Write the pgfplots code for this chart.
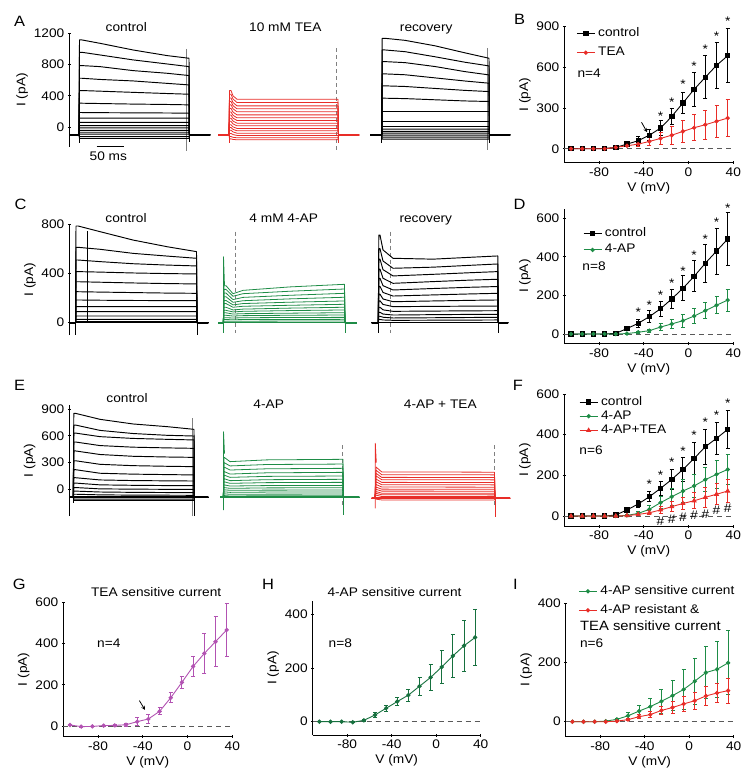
\documentclass[border=0pt]{standalone}
\usepackage{fontspec}
\setmainfont{Liberation Sans}[FakeStretch=1.1]
\usepackage{pgfplots}
\pgfplotsset{compat=1.18}
\definecolor{cred}{RGB}{232,45,40}
\definecolor{cgreen}{RGB}{30,140,70}
\definecolor{dgreen}{RGB}{22,112,62}
\definecolor{cpurple}{RGB}{178,82,178}
\newcommand\fs{\fontsize{12.5}{14}\selectfont}
\newcommand\fsi{\fontsize{13.5}{15}\selectfont}
\newcommand\fl{\fontsize{15}{17}\selectfont}
\pgfplotsset{
  base/.style={scale only axis, anchor=south west, clip=false,
    tick align=outside, major tick length=3bp,
    every tick/.style={black, line width=0.8pt},
    tick label style={font=\fs}, label style={font=\fs},
    ylabel={I (pA)}, ylabel shift=-1bp},
  iv/.style={base, axis lines=left, axis line style={-, line width=0.8pt}, xmin=-111, xmax=40,
    xtick={-80,-40,0,40}, xticklabels={-80,-40,0,40},
    xlabel={V (mV)}, xlabel style={yshift=1bp}},
  tr/.style={base, axis y line=left, axis x line=none, axis line style={-, line width=0.8pt}, xtick=\empty, xmin=69.3, xmax=515, width=445.7bp},
  trace/.style={black, line width=0.95pt, line join=round},
  rtrace/.style={cred, line width=0.8pt, line join=round},
  gtrace/.style={cgreen, line width=0.8pt, line join=round},
  bl/.style={line width=1.8pt},
  cur/.style={gray, line width=0.6pt},
  dcur/.style={gray, line width=0.7pt, dash pattern=on 4bp off 3bp},
  ebar/.style={error bars/y dir=both, error bars/y explicit,
    error bars/error bar style={line width=0.9pt, #1},
    error bars/error mark options={rotate=90, mark size=2bp, line width=0.9pt, #1}},
  zl/.style={black!65, line width=0.8pt, dash pattern=on 5bp off 4bp, forget plot},
  leg/.style={legend style={draw=none, fill=none, at={#1}, anchor=north west, font=\fs, inner sep=0pt,
     column sep=2bp,
     nodes={inner sep=1bp, text height=8.5bp, text depth=2.5bp}}, legend cell align=left,
     legend image code/.code={\draw[##1, mark=none] (0bp,0bp) -- (18bp,0bp);
        \draw[##1] plot coordinates {(9bp,0bp)};}},
}
\tikzset{star/.style={font=\fs, inner sep=0pt, yshift=-2.5bp}, hs/.style={font=\fs, inner sep=0pt}}
% trace macros
\newcommand\tA[5]{\addplot[trace] coordinates {(69.3,-100)(79,-100)(79.5,#1)(82,#1)(100,#2)(133,#3)(167,#4)(189,#5)(189.5,-100)(210,-100)};}
\newcommand\tR[3]{\addplot[rtrace] coordinates {(218.3,-100)(229,-100)(229.5,#1)(231,#1)(233,#2)(237,#3)(338,#3)(338.5,-100)(359,-100)};}
\newcommand\tC[5]{\addplot[trace] coordinates {(370,-100)(381.7,-100)(382.2,#1)(385,#1)(405,#2)(435,#3)(465,#4)(489,#5)(489.5,-100)(510,-100)};}
\newcommand\tD[5]{\addplot[trace] coordinates {(69.3,0)(75.5,0)(76,#1)(78,#1)(100,#2)(133,#3)(167,#4)(196.5,#5)(197,0)(208.3,0)};}
\newcommand\tE[5]{\addplot[gtrace] coordinates {(218.3,0)(223.3,0)(224,#1)(226,#1)(233,#2)(243,#3)(290,#4)(344.5,#5)(345,0)(356.7,0)};}
\newcommand\tF[6]{\addplot[trace] coordinates {(371.7,0)(378.3,0)(378.8,#1)(380,#1)(383,#2)(393,#3)(433,#4)(470,#5)(497.8,#6)(498.3,0)(508,0)};}
\newcommand\tG[5]{\addplot[trace] coordinates {(69.3,-90)(73.3,-90)(73.8,#1)(75.5,#1)(100,#2)(133,#3)(167,#4)(194,#5)(194.3,-90)(208.3,-90)};}
\newcommand\tH[4]{\addplot[gtrace] coordinates {(220,-90)(223.3,-90)(224,#1)(230,#2)(267,#3)(343,#4)(343.3,-90)(359.3,-90)};}
\newcommand\tI[3]{\addplot[rtrace] coordinates {(371.7,-100)(375,-100)(376,#1)(381.7,#2)(494.5,#3)(495,-100)(510,-100)};}
\begin{document}
\begin{tikzpicture}
\useasboundingbox (0,0) rectangle (756bp,-778bp);
%================ A =================
\begin{axis}[tr, height=113.4bp, at={(69.3bp,-146.7bp)}, ymin=-250, ymax=1200,
  ytick={0,400,800,1200}, yticklabels={0,400,800,1200}]
\addplot[cur] coordinates {(186,1000)(186,-300)};
\addplot[dcur] coordinates {(336,1010)(336,-290)};
\addplot[cur] coordinates {(487.7,1010)(487.7,-290)};
\tA{1115}{1072}{987}{915}{881}
\tA{957}{923}{860}{808}{774}
\tA{787}{774}{723}{689}{660}
\tA{625}{610}{591}{560}{540}
\tA{468}{460}{445}{430}{421}
\tA{306}{302}{295}{290}{285}
\tA{187}{185}{183}{181}{179}
\tA{115}{115}{115}{115}{115}
\tA{60}{60}{60}{60}{60}
\tA{20}{20}{20}{20}{20}
\tA{-10}{-10}{-10}{-10}{-10}
\tA{-40}{-40}{-40}{-40}{-40}
\tA{-65}{-65}{-65}{-65}{-65}
\tA{-90}{-90}{-90}{-90}{-90}
\tA{-120}{-120}{-120}{-120}{-120}
\tA{-145}{-145}{-145}{-145}{-145}
\addplot[trace] coordinates {(79,-100)(79,-205)};
\addplot[trace] coordinates {(189.5,-100)(189.5,-195)};
\addplot[trace,bl] coordinates {(69.3,-100)(79,-100)};
\addplot[trace,bl] coordinates {(189.5,-100)(210,-100)};
\tR{468}{400}{357}
\tR{420}{360}{315}
\tR{372}{315}{272}
\tR{328}{275}{234}
\tR{285}{235}{196}
\tR{240}{193}{157}
\tR{195}{152}{119}
\tR{155}{115}{85}
\tR{115}{78}{51}
\tR{75}{42}{17}
\tR{30}{4}{-17}
\tR{-5}{-28}{-47}
\tR{-40}{-60}{-77}
\tR{-80}{-95}{-106}
\tR{-120}{-130}{-136}
\tR{-150}{-157}{-162}
\addplot[rtrace] coordinates {(229,-100)(229,-205)};
\addplot[rtrace] coordinates {(338.5,-100)(338.5,-205)};
\addplot[rtrace,bl] coordinates {(218.3,-100)(229,-100)};
\addplot[rtrace,bl] coordinates {(338.5,-100)(359,-100)};
\tC{1136}{1110}{1040}{950}{881}
\tC{987}{965}{900}{830}{783}
\tC{838}{825}{775}{710}{668}
\tC{681}{670}{630}{590}{562}
\tC{528}{520}{495}{470}{455}
\tC{370}{365}{350}{335}{328}
\tC{200}{200}{200}{200}{200}
\tC{72}{72}{72}{72}{72}
\tC{8}{8}{8}{8}{8}
\tC{-25}{-25}{-25}{-25}{-25}
\tC{-55}{-55}{-55}{-55}{-55}
\tC{-77}{-77}{-77}{-77}{-77}
\tC{-102}{-102}{-102}{-102}{-102}
\tC{-128}{-128}{-128}{-128}{-128}
\tC{-153}{-153}{-153}{-153}{-153}
\addplot[trace] coordinates {(381.7,-100)(381.7,-205)};
\addplot[trace] coordinates {(489.5,-100)(489.5,-200)};
\addplot[trace,bl] coordinates {(370,-100)(381.7,-100)};
\addplot[trace,bl] coordinates {(489.5,-100)(510,-100)};
\end{axis}
%================ C =================
\begin{axis}[tr, height=111bp, at={(69.3bp,-335bp)}, ymin=-100, ymax=800,
  ytick={0,400,800}, yticklabels={0,400,800}]
\addplot[black, line width=0.5pt] coordinates {(87.3,0)(87.3,740)};
\addplot[dcur] coordinates {(235.7,738)(235.7,-86)};
\addplot[dcur] coordinates {(390.7,738)(390.7,-86)};
\tD{784}{738}{670}{616}{576}
\tD{611}{595}{562}{540}{522}
\tD{508}{495}{478}{467}{460}
\tD{414}{410}{403}{398}{395}
\tD{332}{328}{322}{317}{314}
\tD{251}{248}{244}{240}{238}
\tD{184}{182}{180}{179}{178}
\tD{130}{130}{130}{130}{130}
\tD{89}{89}{89}{89}{89}
\tD{54}{54}{54}{54}{54}
\tD{27}{27}{27}{27}{27}
\tD{8}{8}{8}{8}{8}
\addplot[trace] coordinates {(75.5,0)(75.5,-100)};
\addplot[trace] coordinates {(197,0)(197,-100)};
\addplot[trace,bl] coordinates {(69.3,0)(75.5,0)};
\addplot[trace,bl] coordinates {(197,0)(208.3,0)};
\addplot[trace,line width=1.4pt] coordinates {(75.5,0)(197,0)};
\tE{300}{235}{262}{290}{311}
\tE{270}{214}{235}{255}{273}
\tE{240}{187}{205}{222}{238}
\tE{210}{165}{178}{193}{206}
\tE{180}{144}{155}{166}{176}
\tE{155}{125}{133}{141}{149}
\tE{125}{103}{110}{118}{125}
\tE{100}{87}{92}{98}{103}
\tE{80}{70}{73}{77}{81}
\tE{60}{54}{57}{60}{62}
\tE{40}{38}{40}{42}{43}
\tE{25}{24}{25}{26}{27}
\tE{12}{11}{12}{13}{14}
\addplot[gtrace] coordinates {(223.5,-83)(223.5,535)(224.5,300)};
\addplot[gtrace] coordinates {(345,0)(345,-86)};
\addplot[gtrace,bl] coordinates {(218.3,0)(223.3,0)};
\addplot[gtrace,bl] coordinates {(345,0)(356.7,0)};
\addplot[gtrace,line width=1.4pt] coordinates {(223.3,0)(345,0)};
\tF{711}{590}{522}{515}{530}{541}
\tF{600}{500}{441}{450}{465}{476}
\tF{515}{430}{379}{392}{405}{414}
\tF{434}{360}{319}{333}{345}{352}
\tF{360}{300}{265}{277}{287}{293}
\tF{294}{245}{216}{225}{233}{238}
\tF{231}{192}{170}{176}{181}{184}
\tF{177}{148}{130}{132}{134}{135}
\tF{125}{104}{92}{94}{96}{97}
\tF{84}{70}{62}{65}{67}{68}
\tF{52}{44}{38}{40}{42}{43}
\tF{26}{22}{19}{20}{21}{22}
\addplot[trace] coordinates {(378.3,0)(378.3,-86)};
\addplot[trace] coordinates {(498.3,0)(498.3,-86)};
\addplot[trace,bl] coordinates {(371.7,0)(378.3,0)};
\addplot[trace,bl] coordinates {(498.3,0)(508,0)};
\addplot[trace,line width=1.4pt] coordinates {(378.3,0)(498.3,0)};
\end{axis}
%================ E =================
\begin{axis}[tr, height=111.6bp, at={(69.3bp,-516.1bp)}, ymin=-300, ymax=950,
  ytick={0,300,600,900}, yticklabels={0,300,600,900}]
\addplot[cur] coordinates {(192.7,795)(192.7,-300)};
\addplot[dcur] coordinates {(342.7,496)(342.7,-187)};
\addplot[dcur] coordinates {(494.3,496)(494.3,-194)};
\tG{851}{784}{732}{702}{672}
\tG{720}{660}{625}{605}{597}
\tG{630}{590}{570}{560}{553}
\tG{530}{490}{472}{464}{459}
\tG{430}{390}{370}{362}{358}
\tG{320}{280}{265}{258}{254}
\tG{220}{180}{170}{165}{161}
\tG{130}{105}{98}{95}{93}
\tG{70}{50}{45}{42}{41}
\tG{20}{5}{2}{0}{0}
\tG{-20}{-30}{-34}{-36}{-37}
\tG{-55}{-62}{-65}{-66}{-67}
\tG{-110}{-110}{-110}{-110}{-110}
\tG{-125}{-125}{-125}{-125}{-125}
\addplot[trace] coordinates {(73.3,-90)(73.3,-149)};
\addplot[trace] coordinates {(194.3,-90)(194.3,-300)};
\addplot[trace,bl] coordinates {(69.3,-90)(73.3,-90)};
\addplot[trace,bl] coordinates {(194.3,-90)(208.3,-90)};
\addplot[trace,line width=1.8pt] coordinates {(73.3,-90)(194.3,-90)};
\tH{360}{310}{330}{336}
\tH{300}{262}{278}{283}
\tH{250}{216}{230}{235}
\tH{200}{171}{185}{190}
\tH{160}{134}{145}{149}
\tH{120}{97}{108}{112}
\tH{85}{67}{75}{78}
\tH{50}{37}{42}{44}
\tH{20}{11}{16}{18}
\tH{-5}{-11}{-9}{-8}
\tH{-28}{-34}{-31}{-30}
\tH{-50}{-56}{-54}{-53}
\tH{-70}{-75}{-72}{-71}
\addplot[gtrace] coordinates {(223.5,-232)(223.5,645)(224.5,400)};
\addplot[gtrace] coordinates {(343.3,-90)(343.3,-288)};
\addplot[gtrace,bl] coordinates {(220,-90)(223.3,-90)};
\addplot[gtrace,bl] coordinates {(343.3,-90)(359.3,-90)};
\addplot[gtrace,line width=1.8pt] coordinates {(223.3,-90)(343.3,-90)};
\tI{250}{195}{192}
\tI{215}{164}{162}
\tI{180}{134}{132}
\tI{150}{108}{106}
\tI{115}{78}{76}
\tI{85}{52}{50}
\tI{55}{26}{24}
\tI{25}{2}{1}
\tI{0}{-20}{-21}
\tI{-25}{-43}{-44}
\tI{-45}{-61}{-62}
\tI{-65}{-80}{-81}
\tI{-110}{-119}{-120}
\addplot[rtrace] coordinates {(375.3,-213)(375.3,515)(376.3,300)};
\addplot[rtrace] coordinates {(495,-100)(495,-307)};
\addplot[rtrace,bl] coordinates {(371.7,-100)(375,-100)};
\addplot[rtrace,bl] coordinates {(495,-100)(510,-100)};
\addplot[rtrace,line width=1.8pt] coordinates {(375,-100)(495,-100)};
\end{axis}
%================ B =================
\begin{axis}[iv, width=169bp, height=135.6bp, at={(564.3bp,-162.3bp)}, ymin=-100, ymax=900,
  ytick={0,300,600,900}, yticklabels={0,300,600,900},
  leg={(axis description cs:0.07,1.0)}, legend style={row sep=6.3bp}]
\addplot[zl] coordinates {(-111,0)(40,0)};
\addplot[black, line width=0.9pt, mark=square*, mark size=2.2bp, mark options={solid}, ebar=black] coordinates {
(-105,0)+-(0,0) (-95,0)+-(0,0) (-85,0)+-(0,0) (-75,2)+-(0,2) (-65,10)+-(0,5) (-55,34)+-(0,10)
(-45,59)+-(0,35) (-35,100)+-(0,40) (-25,152)+-(0,57) (-15,238)+-(0,58) (-5,338)+-(0,75)
(5,438)+-(0,123) (15,527)+-(0,158) (25,615)+-(0,170) (35,686)+-(0,198)};
\addlegendentry{control}
\addplot[cred, line width=0.9pt, mark=*, mark size=1.7bp, mark options={solid}, ebar=cred] coordinates {
(-105,0)+-(0,0) (-95,0)+-(0,0) (-85,0)+-(0,0) (-75,0)+-(0,0) (-65,10)+-(0,3) (-55,22)+-(0,8)
(-45,34)+-(0,15) (-35,54)+-(0,30) (-25,76)+-(0,45) (-15,100)+-(0,67) (-5,128)+-(0,78)
(5,155)+-(0,95) (15,177)+-(0,105) (25,202)+-(0,120) (35,226)+-(0,138)};
\addlegendentry{TEA}
\node[star] at (axis cs:-25,260) {*};
\node[star] at (axis cs:-15,364) {*};
\node[star] at (axis cs:-5,494) {*};
\node[star] at (axis cs:5,630) {*};
\node[star] at (axis cs:15,752) {*};
\node[star] at (axis cs:25,851) {*};
\node[star] at (axis cs:35,957) {*};
\draw[-stealth, line width=0.8pt] (axis cs:-42,195) -- (axis cs:-37,122);
\end{axis}
%================ D =================
\begin{axis}[iv, width=169bp, height=134.9bp, at={(564.3bp,-343.6bp)}, ymin=-50, ymax=650,
  ytick={0,200,400,600}, yticklabels={0,200,400,600},
  leg={(axis description cs:0.11,0.867)}, legend style={row sep=3.6bp}]
\addplot[zl] coordinates {(-111,0)(40,0)};
\addplot[black, line width=0.9pt, mark=square*, mark size=2.2bp, mark options={solid}, ebar=black] coordinates {
(-105,0)+-(0,0) (-95,0)+-(0,0) (-85,0)+-(0,0) (-75,0)+-(0,0) (-65,3)+-(0,2) (-55,28)+-(0,8)
(-45,55)+-(0,19) (-35,90)+-(0,30) (-25,131)+-(0,40) (-15,182)+-(0,51) (-5,237)+-(0,65)
(5,299)+-(0,80) (15,367)+-(0,100) (25,430)+-(0,120) (35,493)+-(0,135)};
\addlegendentry{control}
\addplot[cgreen, line width=0.9pt, mark=*, mark size=1.7bp, mark options={solid}, ebar=cgreen] coordinates {
(-105,0)+-(0,0) (-95,0)+-(0,0) (-85,0)+-(0,0) (-75,0)+-(0,0) (-65,0)+-(0,0) (-55,2)+-(0,2)
(-45,9)+-(0,4) (-35,17)+-(0,8) (-25,36)+-(0,16) (-15,52)+-(0,24) (-5,69)+-(0,34)
(5,93)+-(0,40) (15,121)+-(0,43) (25,149)+-(0,45) (35,176)+-(0,57)};
\addlegendentry{4-AP}
\node[star] at (axis cs:-45,124) {*};
\node[star] at (axis cs:-35,163) {*};
\node[star] at (axis cs:-25,214) {*};
\node[star] at (axis cs:-15,277) {*};
\node[star] at (axis cs:-5,341) {*};
\node[star] at (axis cs:5,424) {*};
\node[star] at (axis cs:15,505) {*};
\node[star] at (axis cs:25,591) {*};
\node[star] at (axis cs:35,664) {*};
\end{axis}
%================ F =================
\begin{axis}[iv, width=169bp, height=132.2bp, at={(564.3bp,-526.2bp)}, ymin=-50, ymax=600,
  ytick={0,200,400,600}, yticklabels={0,200,400,600},
  leg={(axis description cs:0.087,0.99)}, legend style={row sep=1.2bp}]
\addplot[zl] coordinates {(-111,0)(40,0)};
\addplot[black, line width=0.9pt, mark=square*, mark size=2.2bp, mark options={solid}, ebar=black] coordinates {
(-105,0)+-(0,0) (-95,0)+-(0,0) (-85,0)+-(0,0) (-75,0)+-(0,0) (-65,5)+-(0,3) (-55,30)+-(0,8)
(-45,59)+-(0,18) (-35,95)+-(0,25) (-25,136)+-(0,33) (-15,180)+-(0,47) (-5,229)+-(0,60)
(5,283)+-(0,77) (15,341)+-(0,86) (25,382)+-(0,80) (35,426)+-(0,94)};
\addlegendentry{control}
\addplot[cgreen, line width=0.9pt, mark=*, mark size=1.7bp, mark options={solid}, ebar=cgreen] coordinates {
(-105,0)+-(0,0) (-95,0)+-(0,0) (-85,0)+-(0,0) (-75,0)+-(0,0) (-65,0)+-(0,0) (-55,3)+-(0,3)
(-45,13)+-(0,10) (-35,33)+-(0,20) (-25,66)+-(0,30) (-15,95)+-(0,41) (-5,123)+-(0,57)
(5,148)+-(0,55) (15,179)+-(0,60) (25,205)+-(0,70) (35,229)+-(0,76)};
\addlegendentry{4-AP}
\addplot[cred, line width=0.9pt, mark=triangle*, mark size=2.2bp, mark options={solid}, ebar=cred] coordinates {
(-105,0)+-(0,0) (-95,0)+-(0,0) (-85,0)+-(0,0) (-75,0)+-(0,0) (-65,0)+-(0,0) (-55,2)+-(0,2)
(-45,8)+-(0,6) (-35,16)+-(0,10) (-25,30)+-(0,15) (-15,46)+-(0,25) (-5,62)+-(0,30)
(5,75)+-(0,40) (15,92)+-(0,48) (25,107)+-(0,52) (35,123)+-(0,58)};
\addlegendentry{4-AP+TEA}
\node[star] at (axis cs:-35,169) {*};
\node[star] at (axis cs:-25,213) {*};
\node[star] at (axis cs:-15,279) {*};
\node[star] at (axis cs:-5,333) {*};
\node[star] at (axis cs:5,410) {*};
\node[star] at (axis cs:15,472) {*};
\node[star] at (axis cs:25,508) {*};
\node[star] at (axis cs:35,567) {*};
\node[hs] at (axis cs:-25,-28) {\#};
\node[hs] at (axis cs:-15,-16) {\#};
\node[hs] at (axis cs:-5,-7) {\#};
\node[hs] at (axis cs:5,5) {\#};
\node[hs] at (axis cs:15,10) {\#};
\node[hs] at (axis cs:25,30) {\#};
\node[hs] at (axis cs:35,38) {\#};
\end{axis}
%================ G =================
\begin{axis}[iv, width=169bp, height=134bp, at={(63.3bp,-736.3bp)}, ymin=-50, ymax=600,
  ytick={0,200,400,600}, yticklabels={0,200,400,600}]
\addplot[zl] coordinates {(-111,0)(40,0)};
\addplot[cpurple, line width=0.9pt, mark=*, mark size=1.7bp, mark options={solid}, ebar=cpurple] coordinates {
(-105,5)+-(0,3) (-95,-3)+-(0,2) (-85,-2)+-(0,2) (-75,2)+-(0,2) (-65,3)+-(0,3) (-55,6)+-(0,8)
(-45,21)+-(0,20) (-35,34)+-(0,22) (-25,71)+-(0,17) (-15,137)+-(0,25) (-5,212)+-(0,30)
(5,289)+-(0,50) (15,352)+-(0,97) (25,409)+-(0,121) (35,466)+-(0,130)};
\draw[-stealth, line width=0.8pt] (axis cs:-43,123) -- (axis cs:-38,78);
\end{axis}
%================ H =================
\begin{axis}[iv, width=168bp, height=134.2bp, at={(312.7bp,-735.1bp)}, ymin=-50, ymax=450,
  ytick={0,200,400}, yticklabels={0,200,400}]
\addplot[zl] coordinates {(-111,0)(40,0)};
\addplot[dgreen, line width=0.9pt, mark=*, mark size=1.7bp, mark options={solid}, ebar=dgreen] coordinates {
(-105,0)+-(0,0) (-95,0)+-(0,0) (-85,0)+-(0,0) (-75,-2)+-(0,2) (-65,5)+-(0,4) (-55,25)+-(0,8)
(-45,50)+-(0,12) (-35,75)+-(0,15) (-25,99)+-(0,22) (-15,132)+-(0,34) (-5,165)+-(0,49)
(5,204)+-(0,60) (15,245)+-(0,79) (25,283)+-(0,95) (35,314)+-(0,105)};
\end{axis}
%================ I =================
\begin{axis}[iv, width=168bp, height=133.2bp, at={(565.7bp,-736.5bp)}, ymin=-50, ymax=400,
  ytick={0,200,400}, yticklabels={0,200,400},
  leg={(axis description cs:0.075,1.14)}, legend style={row sep=6bp}]
\addplot[zl] coordinates {(-111,0)(40,0)};
\addplot[cgreen, line width=0.9pt, mark=*, mark size=1.7bp, mark options={solid}, ebar=cgreen] coordinates {
(-105,0)+-(0,0) (-95,0)+-(0,0) (-85,0)+-(0,0) (-75,2)+-(0,2) (-65,8)+-(0,4) (-55,20)+-(0,10)
(-45,36)+-(0,18) (-35,51)+-(0,28) (-25,69)+-(0,40) (-15,88)+-(0,50) (-5,109)+-(0,68)
(5,137)+-(0,78) (15,166)+-(0,88) (25,177)+-(0,95) (35,199)+-(0,108)};
\addlegendentry{4-AP sensitive current}
\addplot[cred, line width=0.9pt, mark=*, mark size=1.7bp, mark options={solid}, ebar=cred] coordinates {
(-105,0)+-(0,0) (-95,0)+-(0,0) (-85,0)+-(0,0) (-75,0)+-(0,0) (-65,2)+-(0,2) (-55,7)+-(0,4)
(-45,17)+-(0,6) (-35,24)+-(0,10) (-25,38)+-(0,12) (-15,48)+-(0,20) (-5,60)+-(0,25)
(5,71)+-(0,28) (15,87)+-(0,33) (25,97)+-(0,33) (35,105)+-(0,42)};
\addlegendentry{4-AP resistant \&}
\end{axis}
%================ texts =================
\begin{scope}[every node/.style={font=\fs, anchor=base, inner sep=0pt}]
\node at (126.3bp,-31.7bp) {control};
\node at (285.3bp,-31.7bp) {10 mM TEA};
\node at (426.2bp,-31.7bp) {recovery};
\node at (126bp,-222.3bp) {control};
\node at (283.7bp,-222.3bp) {4 mM 4-AP};
\node at (425.8bp,-222.3bp) {recovery};
\node at (127bp,-402.7bp) {control};
\node at (268.7bp,-408.3bp) {4-AP};
\node at (440.3bp,-408.3bp) {4-AP + TEA};
\node at (108.3bp,-160bp) {50 ms};
\node at (589.2bp,-77.3bp) {n=4};
\node at (594bp,-270.7bp) {n=8};
\node at (591bp,-454bp) {n=6};
\node at (108.8bp,-647.7bp) {n=4};
\node at (340.3bp,-647.7bp) {n=8};
\node at (591.7bp,-647.7bp) {n=6};
\node at (156.2bp,-596bp) {TEA sensitive current};
\node at (394.5bp,-596bp) {4-AP sensitive current};
\node[anchor=base west, font=\fsi] at (580bp,-630bp) {TEA sensitive current};
\end{scope}
\draw[line width=0.8pt] (96.7bp,-146.7bp) -- (124bp,-146.7bp);
\begin{scope}[every node/.style={font=\fl, anchor=base, inner sep=0pt}]
\node at (19.5bp,-26bp) {A};
\node at (519.5bp,-24bp) {B};
\node at (20.5bp,-209.3bp) {C};
\node at (519.5bp,-209bp) {D};
\node at (19.5bp,-390bp) {E};
\node at (518bp,-390bp) {F};
\node at (19.2bp,-589.3bp) {G};
\node at (268bp,-589.3bp) {H};
\node at (515.3bp,-589bp) {I};
\end{scope}
\end{tikzpicture}
\end{document}
